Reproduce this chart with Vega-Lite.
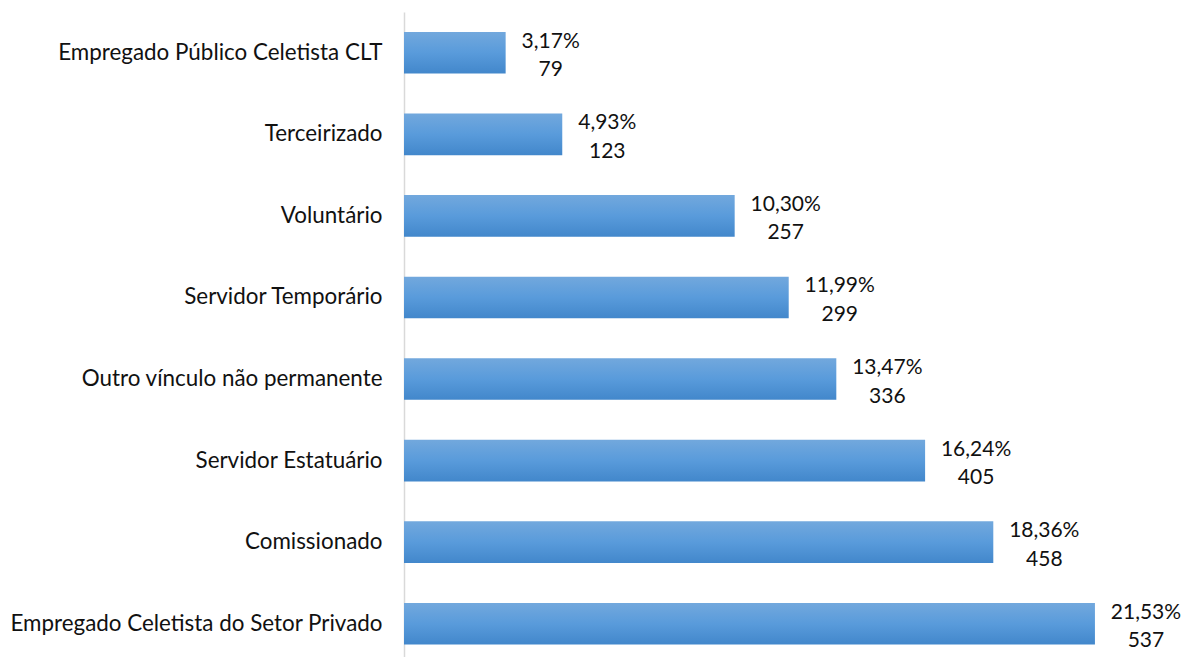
{
  "$schema": "https://vega.github.io/schema/vega-lite/v6.json",
  "autosize": {"type": "none"},
  "padding": {"left": 404, "top": 12, "right": 8, "bottom": 0},
  "width": 772,
  "height": 645,
  "background": "white",
  "config": {"view": {"stroke": null}},
  "data": {
    "values": [
      {"cat": "Empregado Público Celetista CLT", "n": 79, "pct": "3,17%", "p": 3.17},
      {"cat": "Terceirizado", "n": 123, "pct": "4,93%", "p": 4.93},
      {"cat": "Voluntário", "n": 257, "pct": "10,30%", "p": 10.30},
      {"cat": "Servidor Temporário", "n": 299, "pct": "11,99%", "p": 11.99},
      {"cat": "Outro vínculo não permanente", "n": 336, "pct": "13,47%", "p": 13.47},
      {"cat": "Servidor Estatuário", "n": 405, "pct": "16,24%", "p": 16.24},
      {"cat": "Comissionado", "n": 458, "pct": "18,36%", "p": 18.36},
      {"cat": "Empregado Celetista do Setor Privado", "n": 537, "pct": "21,53%", "p": 21.53}
    ]
  },
  "encoding": {
    "y": {
      "field": "cat", "type": "nominal", "sort": null, "title": null,
      "scale": {"range": [0, 652.5], "paddingInner": 0.489, "paddingOuter": 0.2445},
      "axis": {
        "domainColor": "#d9d9d9", "domainWidth": 1.5, "ticks": false,
        "labelFont": "Lato", "labelFontSize": 22.4, "labelColor": "#111111",
        "labelPadding": 22, "labelLimit": 500
      }
    },
    "x": {
      "field": "n", "type": "quantitative",
      "scale": {"domain": [0, 600]}, "axis": null
    }
  },
  "layer": [
    {
      "mark": {
        "type": "bar",
        "color": {
          "gradient": "linear", "x1": 0, "y1": 0, "x2": 0, "y2": 1,
          "stops": [
            {"offset": 0, "color": "#72a8dd"},
            {"offset": 0.5, "color": "#599bdb"},
            {"offset": 1, "color": "#4287cb"}
          ]
        }
      }
    },
    {
      "transform": [{"filter": "datum.p < 10"}],
      "mark": {"type": "text", "align": "center", "baseline": "alphabetic", "dx": 45, "dy": -5, "font": "Lato", "fontSize": 21, "color": "#111111"},
      "encoding": {"text": {"field": "pct"}}
    },
    {
      "transform": [{"filter": "datum.p < 10"}],
      "mark": {"type": "text", "align": "center", "baseline": "alphabetic", "dx": 45, "dy": 23.5, "font": "Lato", "fontSize": 21, "color": "#111111"},
      "encoding": {"text": {"field": "n"}}
    },
    {
      "transform": [{"filter": "datum.p >= 10"}],
      "mark": {"type": "text", "align": "center", "baseline": "alphabetic", "dx": 51, "dy": -5, "font": "Lato", "fontSize": 21, "color": "#111111"},
      "encoding": {"text": {"field": "pct"}}
    },
    {
      "transform": [{"filter": "datum.p >= 10"}],
      "mark": {"type": "text", "align": "center", "baseline": "alphabetic", "dx": 51, "dy": 23.5, "font": "Lato", "fontSize": 21, "color": "#111111"},
      "encoding": {"text": {"field": "n"}}
    }
  ]
}
